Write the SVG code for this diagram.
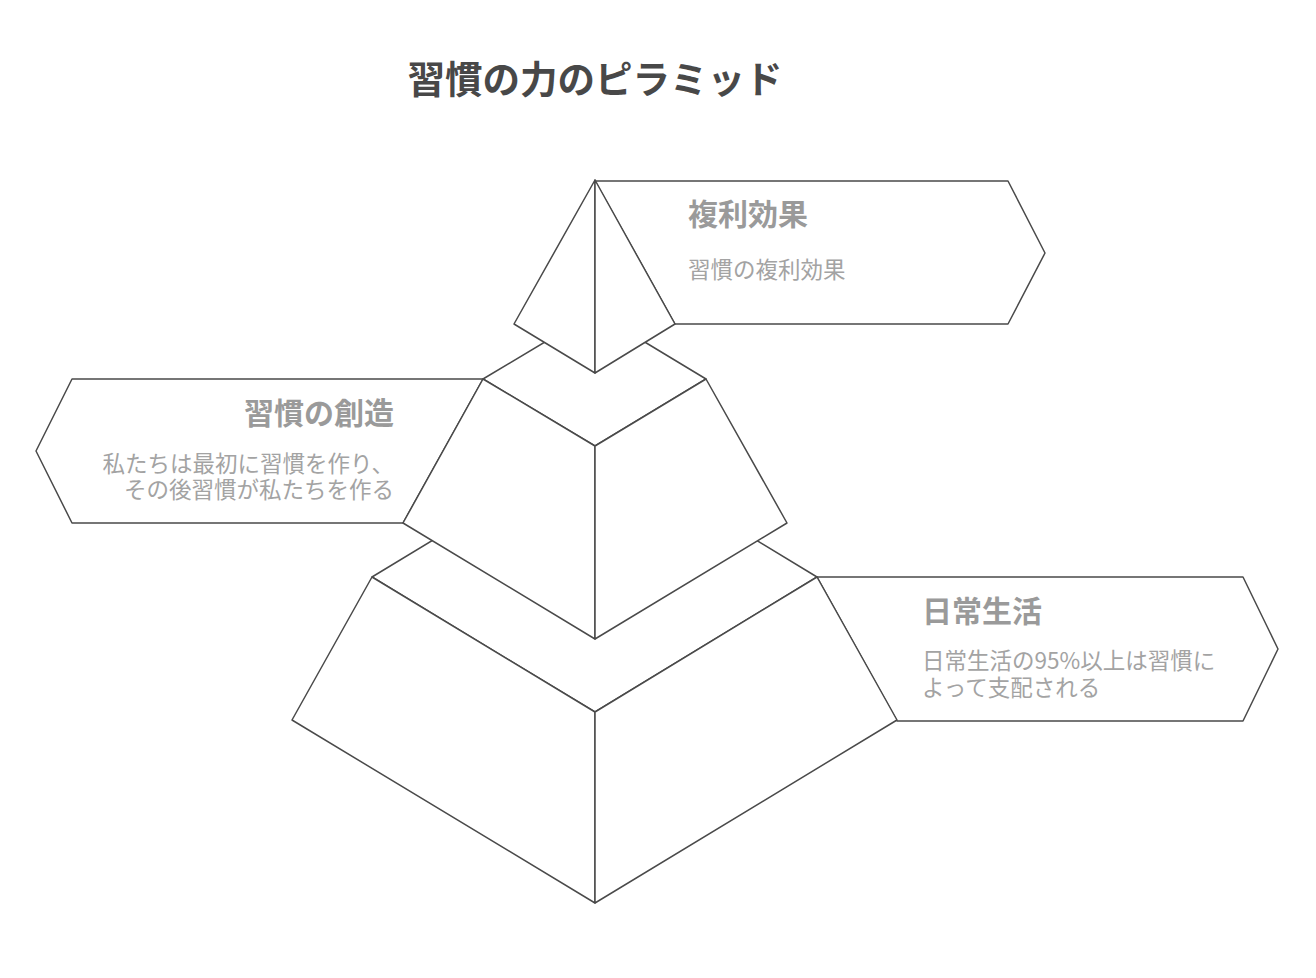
<svg xmlns="http://www.w3.org/2000/svg" width="1316" height="978" viewBox="0 0 1316 978">
<style>
.s{fill:#ffffff;stroke:#4a4a4a;stroke-width:1.5;stroke-linejoin:round}
.t{font-family:"Noto Sans CJK JP","Noto Sans",sans-serif;fill:#484848;font-weight:bold}
.h{font-family:"Noto Sans CJK JP","Noto Sans",sans-serif;fill:#9a9a9a;font-weight:bold;font-size:30px}
.b{font-family:"Noto Sans CJK JP","Noto Sans",sans-serif;fill:#a3a3a3;font-size:22.5px}
</style>
<rect width="1316" height="978" fill="#ffffff"/>
<text class="t" x="595" y="93" font-size="37.5" text-anchor="middle">習慣の力のピラミッド</text>
<g id="label-top">
<polygon class="s" points="595,181 1008,181 1045,253 1008,324 675,324"/>
<text class="h" x="688" y="225">複利効果</text>
<text class="b" x="688" y="278">習慣の複利効果</text>
</g>
<g id="label-middle">
<polygon class="s" points="72,379 483,379 403,523 72,523 36,451"/>
<text class="h" x="394" y="424" text-anchor="end">習慣の創造</text>
<text class="b" x="394" y="472" text-anchor="end">私たちは最初に習慣を作り、</text>
<text class="b" x="394" y="498" text-anchor="end">その後習慣が私たちを作る</text>
</g>
<g id="label-bottom">
<polygon class="s" points="817,577 1243,577 1278,649 1243,721 897,721"/>
<text class="h" x="922" y="622">日常生活</text>
<text class="b" x="922" y="669">日常生活の95%以上は習慣に</text>
<text class="b" x="922" y="696">よって支配される</text>
</g>
<g id="layer-bottom">
<polygon class="s" points="372,577 595,442 817,577 595,712"/>
<polygon class="s" points="372,577 595,712 595,903 292,720"/>
<polygon class="s" points="817,577 595,712 595,903 897,720"/>
</g>
<g id="layer-middle">
<polygon class="s" points="483,379 595,312 706,379 595,446"/>
<polygon class="s" points="483,379 595,446 595,639 403,523"/>
<polygon class="s" points="706,379 595,446 595,639 787,523"/>
</g>
<g id="layer-top">
<polygon class="s" points="595,180 514,324 595,373"/>
<polygon class="s" points="595,180 675,324 595,373"/>
</g>
<g id="connectors"></g>
</svg>
